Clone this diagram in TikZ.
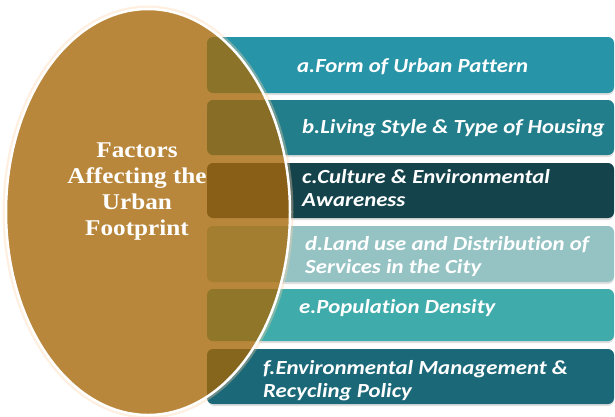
\documentclass[tikz,border=0pt]{standalone}
\usepackage{fontspec}
\setmainfont{Liberation Serif}
\newfontfamily\barfont{Carlito}[FakeStretch=1.14, Ligatures=NoCommon]
\newfontfamily\titlefont{Liberation Serif}[FakeStretch=1.12]
\usepackage{tikz}
\usetikzlibrary{calc}

% bar colours and the colours they take behind the oval
\definecolor{ovalFill}{HTML}{B8873B}
\definecolor{barA}{HTML}{2894A8}
\definecolor{barB}{HTML}{237E8C}
\definecolor{barC}{HTML}{14434B}
\definecolor{barD}{HTML}{95C3C4}
\definecolor{barE}{HTML}{3FABAA}
\definecolor{barF}{HTML}{1B6878}
\definecolor{innerA}{HTML}{8B7429}
\definecolor{innerB}{HTML}{876D26}
\definecolor{innerC}{HTML}{895F18}
\definecolor{innerD}{HTML}{A37D30}
\definecolor{innerE}{HTML}{8F7629}
\definecolor{innerF}{HTML}{86651D}

\begin{document}
\begin{tikzpicture}[x=1pt, y=-1pt,
	factorBar/.style={rounded corners=6pt},
	factorText/.style={anchor=west, inner sep=0pt, align=left, text=white,
		font=\barfont\bfseries\itshape\fontsize{20}{23}\selectfont},
	titleText/.style={inner sep=0pt, align=center, text=white,
		font=\titlefont\bfseries\fontsize{22.5}{26}\selectfont}]

	\useasboundingbox (0,0) rectangle (615,416);

	% bars
	\def \barLeft {207};
	\def \barRight {614};
	\foreach \barTop/\barBottom/\barCol in {37/93/barA, 100/155/barB, 163/218/barC, 226/282/barD, 289/341/barE, 349/404/barF} {
		\fill [factorBar, black!12] (\barLeft+1,\barTop+2) rectangle (\barRight,\barBottom+2);
		\fill [factorBar, \barCol] (\barLeft,\barTop) rectangle (\barRight,\barBottom);
	}

	% oval
	\def \ovalA {142};
	\def \ovalB {203};
	\coordinate (ovalCentre) at (148,212);
	\draw [line width=7pt, orange!35, opacity=0.35] (ovalCentre) ellipse [x radius=\ovalA, y radius=\ovalB];
	\fill [ovalFill] (ovalCentre) ellipse [x radius=\ovalA, y radius=\ovalB];

	% left ends of the bars seen through the oval
	\begin{scope}
		\clip (ovalCentre) ellipse [x radius=\ovalA, y radius=\ovalB];
		\foreach \barTop/\barBottom/\barCol in {37/93/innerA, 100/155/innerB, 163/218/innerC, 226/282/innerD, 289/341/innerE, 349/404/innerF} {
			\fill [factorBar, \barCol] (\barLeft,\barTop) rectangle (\barRight,\barBottom);
		}
	\end{scope}
	\draw [white, line width=2.5pt] (ovalCentre) ellipse [x radius=\ovalA, y radius=\ovalB];

	% title in the oval
	\node [titleText] (title) at (137,192) {Factors\\Affecting the\\Urban\\Footprint};

	% factor labels
	\node [factorText] (factorA) at (297,67) {a.Form of Urban Pattern};
	\node [factorText] (factorB) at (302,128) {b.Living Style \& Type of Housing};
	\node [factorText] (factorC) at (302,188.5) {c.Culture \& Environmental\\Awareness};
	\node [factorText] (factorD) at (305,256.5) {d.Land use and Distribution of\\Services in the City};
	\node [factorText] (factorE) at (299,308) {e.Population Density};
	\node [factorText] (factorF) at (263,381) {f.Environmental Management \&\\Recycling Policy};

\end{tikzpicture}
\end{document}
